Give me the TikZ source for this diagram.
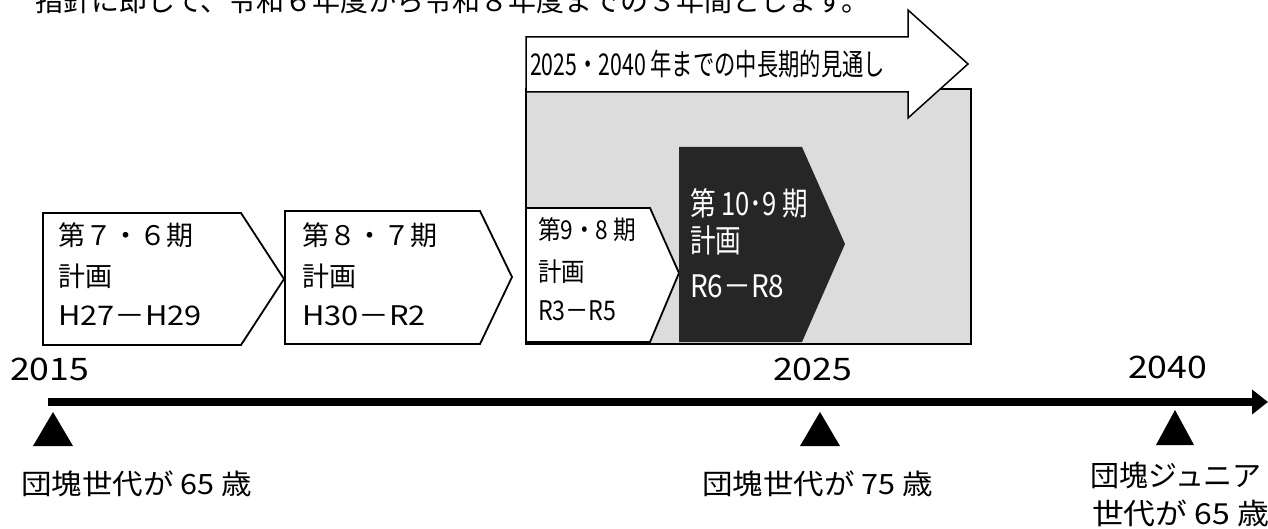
\documentclass[tikz,border=0pt]{standalone}
\usepackage{fontspec}
\usepackage{graphicx}
\setmainfont{Noto Sans CJK JP}
\usetikzlibrary{arrows.meta}
\definecolor{darkbox}{HTML}{262626}
\definecolor{shade}{HTML}{DCDCDC}
\newcommand\fs[1]{\fontsize{#1}{#1}\selectfont}
\newcommand\hx[2]{\scalebox{#1}[1]{#2}}
\begin{document}
\begin{tikzpicture}[x=1pt,y=-1pt,
  txt/.style={anchor=base west, inner sep=0pt, outer sep=0pt},
  plan/.style={draw=black, line width=1.8pt, fill=white, line join=miter},
  marker/.style={fill=black},
  wtxt/.style={txt, text=white},
]
\clip (0,0) rectangle (1268,529);
\fill[white] (0,0) rectangle (1268,529);

% intro line (cut off at the top)
\node[txt, font=\fs{28}] (intro) at (35,12) {指針に即して、令和６年度から令和８年度までの３年間とします。};

% shaded outlook area
\draw[fill=shade, line width=1.2pt] (526,89) rectangle (971,344);
% big arrow
\draw[fill=white, line width=1.5pt, line join=miter]
  (526,37) -- (908,37) -- (908,10) -- (968,64) -- (908,118) -- (908,92) -- (526,92) -- cycle;
\node[txt, font=\fs{30}] (title) at (530,76) {\hx{0.71}{2025・2040 年までの中長期的見通し}};

% plan 7/6
\draw[plan] (43,213) -- (241,213) -- (284,279) -- (241,345) -- (43,345) -- cycle;
\node[txt, font=\fs{27}] (p1a) at (58,246) {第７・６期};
\node[txt, font=\fs{27}] (p1b) at (58,287) {計画};
\node[txt, font=\fs{27}] (p1c) at (58,325) {\hx{1.14}{H27－H29}};

% plan 8/7
\draw[plan] (285,211) -- (480,211) -- (512,277) -- (480,344) -- (285,344) -- cycle;
\node[txt, font=\fs{27}] (p2a) at (302,246) {第８・７期};
\node[txt, font=\fs{27}] (p2b) at (302,287) {計画};
\node[txt, font=\fs{27}] (p2c) at (302,325) {\hx{1.14}{H30－R2}};

% plan 9/8
\draw[plan] (526,208) -- (650,208) -- (679,273) -- (650,342) -- (526,342) -- cycle;
\node[txt, font=\fs{26}] (p3a) at (538,240) {\hx{0.87}{第9・8 期}};
\node[txt, font=\fs{26}] (p3b) at (538,281) {\hx{0.9}{計画}};
\node[txt, font=\fs{27}] (p3c) at (538,320) {\hx{0.86}{R3－R5}};

% plan 10/9 (dark)
\fill[darkbox] (679,147) -- (802,147) -- (845,244) -- (802,342) -- (679,342) -- cycle;
\node[wtxt, font=\fs{32}] (p4a) at (690,216) {\hx{0.8}{第 10･9 期}};
\node[wtxt, font=\fs{32}] (p4b) at (690,253) {\hx{0.8}{計画}};
\node[wtxt, font=\fs{31}] (p4c) at (690,297) {\hx{0.9}{R6－R8}};

% years
\node[txt, font=\fs{31}] (y15) at (10,380) {\hx{1.15}{2015}};
\node[txt, font=\fs{31}] (y25) at (773,380) {\hx{1.15}{2025}};
\node[txt, font=\fs{31}] (y40) at (1128,378) {\hx{1.15}{2040}};

% timeline
\coordinate (t0) at (48,402);
\coordinate (t1) at (1268,402);
\draw[line width=8pt, -{Triangle[length=16pt,width=24pt]}] (t0) -- (t1);

% markers
\fill[marker] (53,412) -- (73,446) -- (33,446) -- cycle;
\fill[marker] (820,412) -- (840,446) -- (800,446) -- cycle;
\fill[marker] (1175,410) -- (1194,445) -- (1156,445) -- cycle;

% captions
\node[txt, font=\fs{28}] (c1) at (21,494) {\hx{1.09}{団塊世代が 65 歳}};
\node[txt, font=\fs{28}] (c2) at (702,494) {\hx{1.09}{団塊世代が 75 歳}};
\node[txt, font=\fs{29}] (c3a) at (1090,486) {団塊ジュニア};
\node[txt, font=\fs{29}] (c3b) at (1092,524) {\hx{1.1}{世代が 65 歳}};
\end{tikzpicture}
\end{document}
